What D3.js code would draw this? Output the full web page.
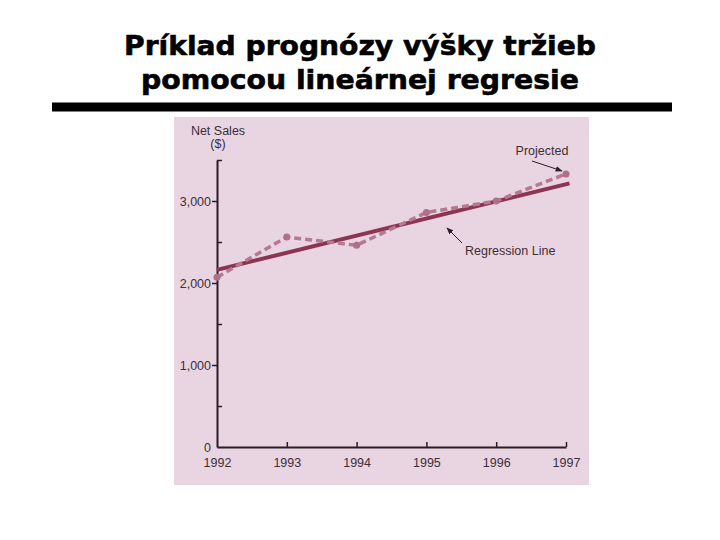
<!DOCTYPE html>
<html>
<head>
<meta charset="utf-8">
<script src="https://cdn.jsdelivr.net/npm/d3@7"></script>
<style>
  html, body { margin: 0; padding: 0; background: #ffffff; }
  svg { display: block; }
</style>
</head>
<body>
<svg id="chart" width="720" height="540"></svg>
<script>
// ---- data ----
const titleLines = ["Príklad prognózy výšky tržieb", "pomocou lineárnej regresie"];
const years = [1992, 1993, 1994, 1995, 1996, 1997];
const netSales = [2070, 2560, 2460, 2860, 3000, 3330];
const regYears = [1992, 1997.05];
const regValues = [2160, 3215];
const yMajorTicks = [0, 1000, 2000, 3000];
const yMinorTicks = [500, 1500, 2500, 3500];
const yAxisLabel = ["Net Sales", "($)"];
const annotations = ["Projected", "Regression Line"];

const svg = d3.select("#chart");

// title
const titleWidths = [472, 438];
const titleBaselines = [54.5, 88.5];
titleLines.forEach((t, i) => {
  svg.append("text")
    .attr("x", 360).attr("y", titleBaselines[i])
    .attr("text-anchor", "middle")
    .attr("font-family", "'DejaVu Sans', Verdana, sans-serif")
    .attr("font-weight", "bold")
    .attr("font-size", 27)
    .attr("textLength", titleWidths[i])
    .attr("lengthAdjust", "spacingAndGlyphs")
    .attr("fill", "#000")
    .attr("stroke", "#000").attr("stroke-width", 0.6)
    .text(t);
});

// thick rule
svg.append("rect").attr("x", 52).attr("y", 102.5).attr("width", 620).attr("height", 9).attr("fill", "#000");

// photo background
svg.append("rect").attr("x", 174).attr("y", 117).attr("width", 415).attr("height", 368).attr("fill", "#e9d4e1");

// scales
const x = d3.scaleLinear().domain([1992, 1997]).range([217, 566]);
const y = d3.scaleLinear().domain([0, 3500]).range([447, 160]);

const axisColor = "#2a1c28";
const textColor = "#3a3038";
const fontFam = "'Liberation Sans', Arial, sans-serif";
const fs = 12.5;

// y axis (major ticks outward, labels)
const gy = svg.append("g").attr("transform", `translate(${x(1992)},0)`)
  .call(d3.axisLeft(y).tickValues(yMajorTicks).tickSizeInner(5).tickSizeOuter(0).tickPadding(1)
    .tickFormat(d3.format(",")));
gy.select(".domain").attr("stroke", axisColor).attr("stroke-width", 2);
gy.selectAll(".tick line").attr("stroke", axisColor).attr("stroke-width", 1.5)
  .attr("stroke-opacity", d => d === 0 ? 0 : 1);
gy.selectAll(".tick text").attr("fill", textColor).attr("font-family", fontFam).attr("font-size", fs);

// y minor ticks (inward)
const gym = svg.append("g").attr("transform", `translate(${x(1992)},0)`)
  .call(d3.axisRight(y).tickValues(yMinorTicks).tickSizeInner(5).tickSizeOuter(0).tickFormat(""));
gym.select(".domain").remove();
gym.selectAll(".tick line").attr("stroke", axisColor).attr("stroke-width", 1.5);

// x axis (ticks inward, labels below)
const gx = svg.append("g").attr("transform", `translate(0,${y(0)})`)
  .call(d3.axisBottom(x).tickValues(years).tickSizeInner(-5).tickSizeOuter(0).tickPadding(11)
    .tickFormat(d3.format("d")));
gx.select(".domain").attr("stroke", axisColor).attr("stroke-width", 2.2);
gx.selectAll(".tick line").attr("stroke", axisColor).attr("stroke-width", 1.5)
  .attr("stroke-opacity", d => d === 1992 ? 0 : 1);
gx.selectAll(".tick text").attr("fill", textColor).attr("font-family", fontFam).attr("font-size", fs);

// y axis title
yAxisLabel.forEach((t, i) => {
  svg.append("text").attr("x", 218).attr("y", 135 + i * 12.5)
    .attr("text-anchor", "middle").attr("fill", textColor)
    .attr("font-family", fontFam).attr("font-size", fs).text(t);
});

// regression line
const line = d3.line().x(d => x(d[0])).y(d => y(d[1]));
svg.append("path")
  .datum(regYears.map((yr, i) => [yr, regValues[i]]))
  .attr("d", line)
  .attr("fill", "none").attr("stroke", "#8c3552").attr("stroke-width", 4);

// dashed actual / projected line
const salesPts = years.map((yr, i) => [yr, netSales[i]]);
svg.append("path")
  .datum(salesPts)
  .attr("d", line)
  .attr("fill", "none").attr("stroke", "#b57990").attr("stroke-width", 3.5)
  .attr("stroke-dasharray", "7,4");
svg.selectAll("circle.pt").data(salesPts).enter().append("circle")
  .attr("class", "pt")
  .attr("cx", d => x(d[0])).attr("cy", d => y(d[1])).attr("r", 3.5)
  .attr("fill", "#b06f89");

// arrow marker
svg.append("defs").append("marker")
  .attr("id", "arr").attr("viewBox", "0 0 10 10").attr("refX", 9).attr("refY", 5)
  .attr("markerWidth", 7).attr("markerHeight", 7).attr("orient", "auto")
  .append("path").attr("d", "M0,1 L10,5 L0,9 Z").attr("fill", "#2a1c28");

// Projected annotation
svg.append("text").attr("x", 542).attr("y", 155).attr("text-anchor", "middle")
  .attr("fill", textColor).attr("font-family", fontFam).attr("font-size", fs).text(annotations[0]);
svg.append("line").attr("x1", 532).attr("y1", 161).attr("x2", x(1997) - 4).attr("y2", y(netSales[5]) - 3)
  .attr("stroke", "#2a1c28").attr("stroke-width", 1).attr("marker-end", "url(#arr)");

// Regression Line annotation
svg.append("text").attr("x", 465).attr("y", 255)
  .attr("fill", textColor).attr("font-family", fontFam).attr("font-size", fs).text(annotations[1]);
svg.append("line").attr("x1", 462).attr("y1", 243).attr("x2", 447).attr("y2", 228)
  .attr("stroke", "#2a1c28").attr("stroke-width", 1).attr("marker-end", "url(#arr)");
</script>
</body>
</html>
